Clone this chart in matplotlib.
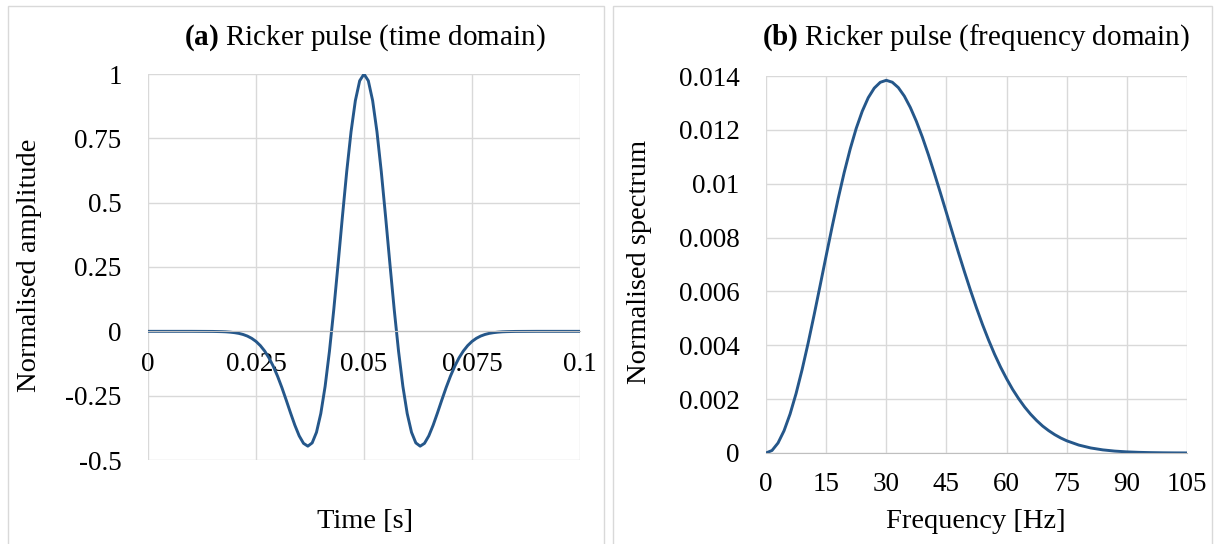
import matplotlib.pyplot as plt
from matplotlib.patches import Rectangle

# (a) Ricker pulse, time domain
time = [0.0, 0.01, 0.015, 0.017, 0.018, 0.019,
        0.020, 0.021, 0.022, 0.023, 0.024, 0.025, 0.026, 0.027, 0.028, 0.029,
        0.030, 0.031, 0.032, 0.033, 0.034, 0.035, 0.036, 0.037, 0.038, 0.039,
        0.040, 0.041, 0.042, 0.043, 0.044, 0.045, 0.046, 0.047, 0.048, 0.049,
        0.050, 0.051, 0.052, 0.053, 0.054, 0.055, 0.056, 0.057, 0.058, 0.059,
        0.060, 0.061, 0.062, 0.063, 0.064, 0.065, 0.066, 0.067, 0.068, 0.069,
        0.070, 0.071, 0.072, 0.073, 0.074, 0.075, 0.076, 0.077, 0.078, 0.079,
        0.080, 0.081, 0.082, 0.083, 0.085, 0.09, 0.1]
amplitude = [0.0, 0.0, -0.0004, -0.0012, -0.0019, -0.0032,
             -0.0051, -0.0079, -0.0122, -0.0184, -0.0272, -0.0392, -0.0554, -0.0764, -0.1031, -0.1359,
             -0.1748, -0.2191, -0.2675, -0.3173, -0.3650, -0.4062, -0.4353, -0.4462, -0.4336, -0.3924,
             -0.3195, -0.2138, -0.0776, 0.0838, 0.2618, 0.4452, 0.6209, 0.7756, 0.8965, 0.9736,
             1.0, 0.9736, 0.8965, 0.7756, 0.6209, 0.4452, 0.2618, 0.0838, -0.0776, -0.2138,
             -0.3195, -0.3924, -0.4336, -0.4462, -0.4353, -0.4062, -0.3650, -0.3173, -0.2675, -0.2191,
             -0.1748, -0.1359, -0.1031, -0.0764, -0.0554, -0.0392, -0.0272, -0.0184, -0.0122, -0.0079,
             -0.0051, -0.0032, -0.0019, -0.0012, -0.0004, 0.0, 0.0]
time_ticks = [0, 0.025, 0.05, 0.075, 0.1]
time_labels = ["0", "0.025", "0.05", "0.075", "0.1"]
amp_ticks = [-0.5, -0.25, 0, 0.25, 0.5, 0.75, 1]
amp_labels = ["-0.5", "-0.25", "0", "0.25", "0.5", "0.75", "1"]

# (b) Ricker pulse, frequency domain
freq = [0, 1.5, 3, 4.5, 6, 7.5, 9, 10.5, 12, 13.5, 15, 16.5, 18, 19.5,
        21, 22.5, 24, 25.5, 27, 28.5, 30, 31.5, 33, 34.5, 36, 37.5, 39,
        40.5, 42, 43.5, 45, 46.5, 48, 49.5, 51, 52.5, 54, 55.5, 57, 58.5,
        60, 61.5, 63, 64.5, 66, 67.5, 69, 70.5, 72, 73.5, 75, 78, 81, 84,
        87, 90, 93, 96, 99, 102, 105]
spectrum = [0.0, 0.0000938, 0.000372, 0.000827, 0.001445, 0.002208, 0.003094,
            0.004076, 0.005128, 0.006220, 0.007323, 0.008407, 0.009447,
            0.010415, 0.01129, 0.012054, 0.01269, 0.013194, 0.01355,
            0.013766, 0.01384, 0.013769, 0.01357, 0.013254, 0.01283,
            0.012318, 0.01173, 0.011078, 0.01038, 0.009659, 0.00892,
            0.008177, 0.00744, 0.006728, 0.00604, 0.005387, 0.00477,
            0.004200, 0.00367, 0.003191, 0.00276, 0.002365, 0.00202,
            0.001709, 0.00144, 0.001206, 0.00100, 0.000830, 0.000683,
            0.000558, 0.000454, 0.000295, 0.000187, 0.000116, 0.0000704,
            0.0000418, 0.0000242, 0.0000137, 0.0000075, 0.000004, 0.000002]
freq_ticks = [0, 15, 30, 45, 60, 75, 90, 105]
spec_ticks = [0, 0.002, 0.004, 0.006, 0.008, 0.01, 0.012, 0.014]
spec_labels = ["0", "0.002", "0.004", "0.006", "0.008", "0.01", "0.012", "0.014"]

plt.rcParams['font.family'] = ['Liberation Serif', 'DejaVu Serif']
plt.rcParams['mathtext.fontset'] = 'custom'
plt.rcParams['mathtext.rm'] = 'Liberation Serif'
plt.rcParams['mathtext.bf'] = 'Liberation Serif:bold'

W, H = 1216, 544
LINE = '#25578A'
GRID = '#d9d9d9'
TICK_FS = 19.5
LABEL_FS = 20.5
TITLE_FS = 21

fig = plt.figure(figsize=(W / 100, H / 100), dpi=100)

# chart area borders
for x0, x1 in [(8, 604), (613, 1212)]:
    fig.add_artist(Rectangle((x0 / W, -0.02), (x1 - x0) / W, 1 - 6 / H + 0.02,
                             transform=fig.transFigure, fill=False,
                             edgecolor=GRID, lw=1))

# left panel
ax1 = fig.add_axes([148 / W, 1 - 460 / H, (580 - 148) / W, (460 - 74) / H])
ax1.plot(time, amplitude, color=LINE, lw=2.1)
ax1.set_xlim(0, 0.1)
ax1.set_ylim(-0.5, 1)
ax1.set_xticks(time_ticks)
ax1.set_xticklabels(time_labels)
ax1.set_yticks(amp_ticks)
ax1.set_yticklabels(amp_labels)
ax1.set_axisbelow(True)
ax1.grid(True, color=GRID, lw=1)
for s in ['top', 'right', 'left']:
    ax1.spines[s].set_visible(False)
ax1.spines['bottom'].set_position(('data', 0))
ax1.spines['bottom'].set_color('#bfbfbf')
ax1.tick_params(length=0, labelsize=TICK_FS)
ax1.tick_params(axis='x', pad=15)
ax1.tick_params(axis='y', pad=19)

# right panel
ax2 = fig.add_axes([766 / W, 1 - 453 / H, (1187 - 766) / W, (453 - 76) / H])
ax2.plot(freq, spectrum, color=LINE, lw=2.1)
ax2.set_xlim(0, 105)
ax2.set_ylim(0, 0.014)
ax2.set_xticks(freq_ticks)
ax2.set_yticks(spec_ticks)
ax2.set_yticklabels(spec_labels)
ax2.set_axisbelow(True)
ax2.grid(True, color=GRID, lw=1)
for s in ['top', 'right', 'left']:
    ax2.spines[s].set_visible(False)
ax2.spines['bottom'].set_color('#bfbfbf')
ax2.tick_params(length=0, labelsize=TICK_FS)
ax2.tick_params(axis='x', pad=14)
ax2.tick_params(axis='y', pad=19)

# titles and axis labels
fig.text(365 / W, 1 - 38 / H, r'$\bf{(a)}$ Ricker pulse (time domain)',
         ha='center', va='center', size=TITLE_FS)
fig.text(976 / W, 1 - 38 / H, r'$\bf{(b)}$ Ricker pulse (frequency domain)',
         ha='center', va='center', size=TITLE_FS)
fig.text(30 / W, 1 - 265 / H, 'Normalised amplitude', rotation=90,
         ha='center', va='center', size=LABEL_FS)
fig.text(640 / W, 1 - 262 / H, 'Normalised spectrum', rotation=90,
         ha='center', va='center', size=LABEL_FS)
fig.text(365 / W, 1 - 522 / H, 'Time [s]', ha='center', va='center', size=LABEL_FS)
fig.text(976 / W, 1 - 522 / H, 'Frequency [Hz]', ha='center', va='center', size=LABEL_FS)

fig.savefig('out.png', dpi=100)
